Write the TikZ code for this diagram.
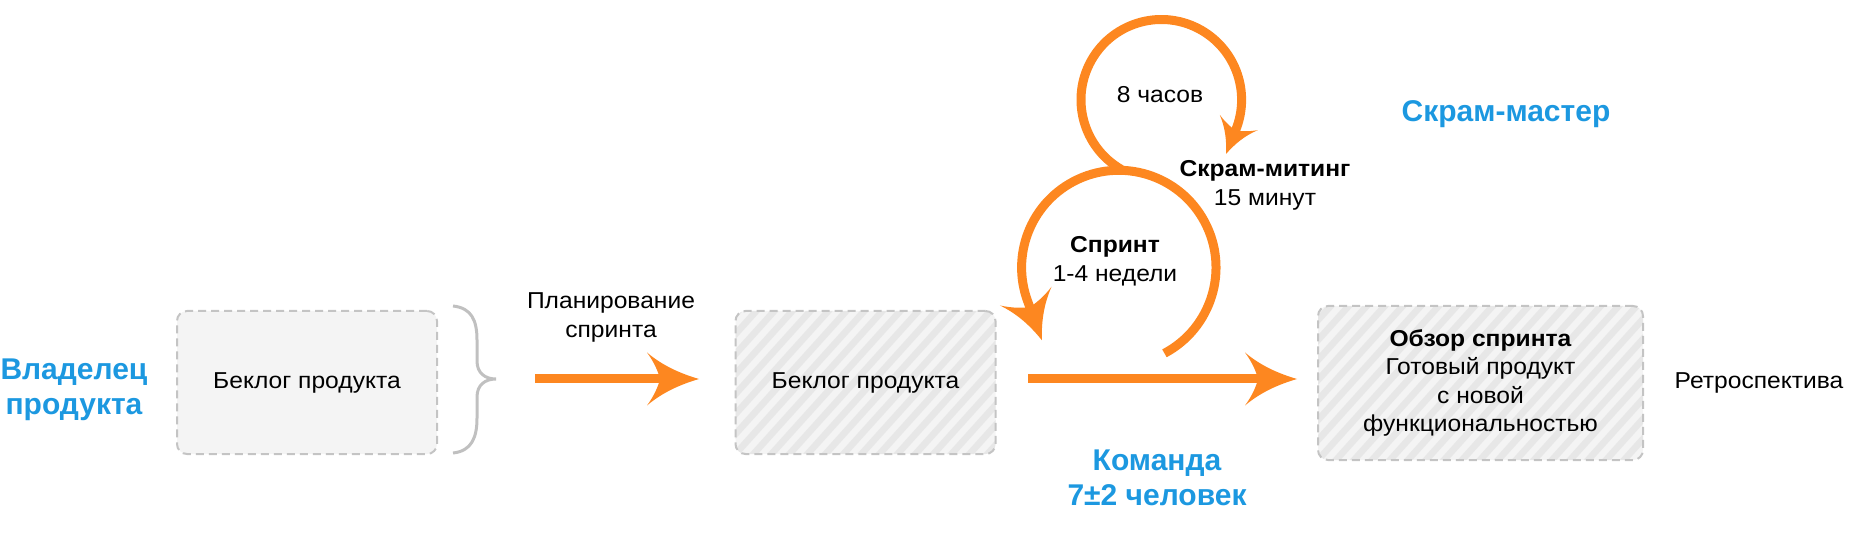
\documentclass[tikz,border=0pt]{standalone}
\usepackage{fontspec}
\setmainfont{Liberation Sans}
\newfontfamily\bodyf{Liberation Sans}[FakeStretch=1.07]
\usetikzlibrary{arrows.meta,bending,calc}
\definecolor{orng}{RGB}{253,135,32}
\definecolor{blu}{RGB}{28,152,224}
\definecolor{bord}{RGB}{196,196,196}
\definecolor{boxfill}{RGB}{244,244,244}
\definecolor{hbase}{RGB}{244,244,244}
\definecolor{hstripe}{RGB}{231,231,231}
\definecolor{brc}{RGB}{192,192,192}

\pgfdeclarearrow{
  name = Swoosh,
  parameters = {\the\pgfarrowlength,\the\pgfarrowwidth},
  setup code = {
    \pgfarrowssettipend{0pt}
    \pgfarrowssetlineend{-.7\pgfarrowlength}
    \pgfarrowsupperhullpoint{0pt}{0pt}
    \pgfarrowsupperhullpoint{-\pgfarrowlength}{.5\pgfarrowwidth}
    \pgfarrowssavethe\pgfarrowlength
    \pgfarrowssavethe\pgfarrowwidth
  },
  drawing code = {
    \pgfpathmoveto{\pgfqpoint{0pt}{0pt}}
    \pgfpathcurveto{\pgfqpoint{-.35\pgfarrowlength}{.1\pgfarrowwidth}}{\pgfqpoint{-.7\pgfarrowlength}{.25\pgfarrowwidth}}{\pgfqpoint{-\pgfarrowlength}{.5\pgfarrowwidth}}
    \pgfpathcurveto{\pgfqpoint{-.85\pgfarrowlength}{.3\pgfarrowwidth}}{\pgfqpoint{-.78\pgfarrowlength}{.12\pgfarrowwidth}}{\pgfqpoint{-.75\pgfarrowlength}{0pt}}
    \pgfpathcurveto{\pgfqpoint{-.78\pgfarrowlength}{-.12\pgfarrowwidth}}{\pgfqpoint{-.85\pgfarrowlength}{-.3\pgfarrowwidth}}{\pgfqpoint{-\pgfarrowlength}{-.5\pgfarrowwidth}}
    \pgfpathcurveto{\pgfqpoint{-.7\pgfarrowlength}{-.25\pgfarrowwidth}}{\pgfqpoint{-.35\pgfarrowlength}{-.1\pgfarrowwidth}}{\pgfqpoint{0pt}{0pt}}
    \pgfpathclose
    \pgfusepathqfill
  },
  defaults = {length = 52pt, width = 52pt}
}

\begin{document}
\begin{tikzpicture}[x=1pt,y=1pt,
  txt/.style={font=\bodyf\fontsize{23}{29}\selectfont, align=center, inner sep=0pt, text=black},
  lbl/.style={font=\fontsize{30}{35}\selectfont\bfseries, align=center, inner sep=0pt, text=blu},
  boxbase/.style={draw=bord, line width=2pt, dash pattern=on 8pt off 5pt, rounded corners=10pt,
    minimum width=260pt, minimum height=143pt, inner sep=0pt, align=center,
    font=\bodyf\fontsize{23}{28.5}\selectfont},
  plainbox/.style={boxbase, fill=boxfill},
  hatchbox/.style={boxbase, fill=hbase, path picture={
    \foreach \k in {-30,...,30}
      \draw[draw=hstripe, solid, sharp corners, line width=6.6pt]
        ($(path picture bounding box.south west)+(\k*18pt,-20pt)$) -- ++(48:420pt);
  }},
  flow/.style={draw=orng, line width=9pt, -{Swoosh[length=52pt,width=53pt]}},
  loopline/.style={draw=orng, line width=9pt},
  brace/.style={draw=brc, line width=3pt}
]
\useasboundingbox (0,0) rectangle (1865,541);

% boxes
\node[plainbox] (pb) at (307,158.5) {Беклог продукта};
\node[hatchbox] (sb) at (865.5,158.5) {Беклог продукта};
\node[hatchbox, minimum width=325pt, minimum height=154pt] (inc) at (1480.5,158)
  {\textbf{Обзор спринта}\\Готовый продукт\\с новой\\функциональностью};

% labels
\node[lbl] (po) at (74,151.5) {Владелец\\продукта};
\node[txt] (plan) at (611,223.5) {Планирование\\спринта};
\node[txt] (hrs) at (1160,446) {8 часов};
\node[txt] (scm) at (1265,355.5) {\textbf{Скрам-митинг}\\15 минут};
\node[txt] (spr) at (1115,280) {\textbf{Спринт}\\1-4 недели};
\node[lbl] (sm) at (1506,427) {Скрам-мастер};
\node[lbl] (team) at (1157,63.5) {Команда\\7±2 человек};
\node[txt] (retro) at (1759,158) {Ретроспектива};

% brace
\coordinate (brtop) at (453,235);
\coordinate (brbot) at (453,88);
\coordinate (brtip) at (496,162);
\draw[brace] (brtop) .. controls (472,233) and (477,220) .. (477,201) -- (477,180)
  .. controls (477,168) and (485,162) .. (brtip)
  .. controls (485,162) and (477,156) .. (477,144) -- (477,123)
  .. controls (477,104) and (472,90) .. (brbot);

% straight arrows
\coordinate (a1s) at (535,162);
\coordinate (a1e) at (699,162);
\coordinate (a2s) at (1028,162);
\coordinate (a2e) at (1297,162);
\draw[flow] (a1s) -- (a1e);
\draw[flow] (a2s) -- (a2e);

% loops
\coordinate (uc) at (1161.3,441.2);
\coordinate (lc) at (1118.8,273.5);
\draw[loopline, -{Swoosh[length=47pt,width=55pt]}] ($(lc)+(-62:97.2)$)
  arc[start angle=-62, end angle=200, radius=97.2] -- ++(290:42);
\draw[loopline, -{Swoosh[length=34pt,width=41pt]}] ($(uc)+(240:80.3)$)
  arc[start angle=240, end angle=-22, radius=80.3] -- ++(-112:26);
\end{tikzpicture}
\end{document}
